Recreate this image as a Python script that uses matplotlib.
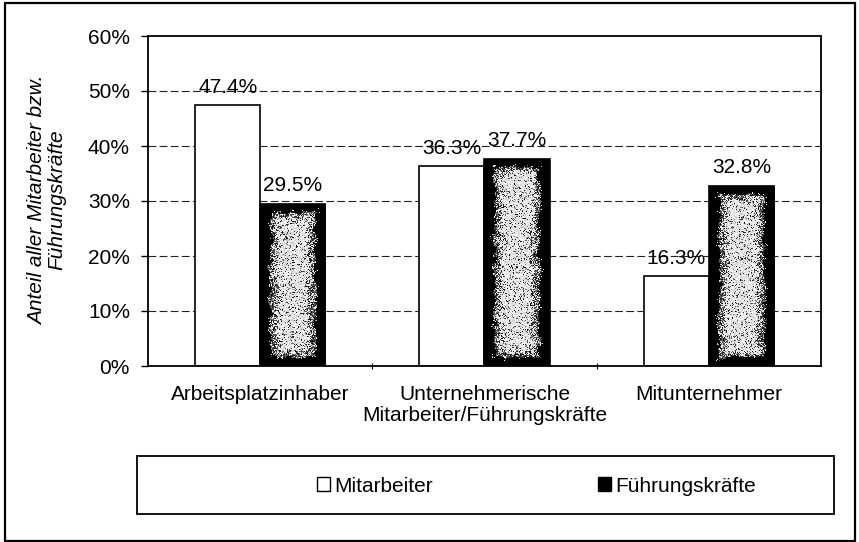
import numpy as np
import matplotlib
matplotlib.use('Agg')
import matplotlib.pyplot as plt
import matplotlib.patches as mpl_patches
from matplotlib.ticker import FixedLocator, PercentFormatter

plt.rcParams['font.family'] = ['Liberation Sans', 'DejaVu Sans']

categories = ['Arbeitsplatzinhaber',
              'Unternehmerische\nMitarbeiter/Führungskräfte',
              'Mitunternehmer']
series_names = ['Mitarbeiter', 'Führungskräfte']
mitarbeiter = [47.4, 36.3, 16.3]
fuehrung = [29.5, 37.7, 32.8]
y_ticks = [0, 10, 20, 30, 40, 50, 60]
y_label = 'Anteil aller Mitarbeiter bzw.\nFührungskräfte'

FONT_SIZE = 15
BAR_WIDTH = 0.29

GRID_STYLING = {
    'color': '#222222',
    'linestyle': (0, (7, 3)),
    'linewidth': 0.8,
    'zorder': 0,
}

LABEL_STYLING = {
    'ha': 'center',
    'va': 'bottom',
    'fontsize': FONT_SIZE,
    'textcoords': 'offset points',
    'xytext': (0, 6),
}


def smooth(a, k):
    kernel = np.ones(k) / k
    a = np.apply_along_axis(lambda r: np.convolve(r, kernel, mode='same'), 0, a)
    a = np.apply_along_axis(lambda r: np.convolve(r, kernel, mode='same'), 1, a)
    return a


def speckle_texture(w_px, h_px, rng):
    # dark rim fading into a grainy light core, like a dithered centre gradient
    xx, yy = np.meshgrid(np.arange(w_px) + 0.5, np.arange(h_px) + 0.5)
    dx = np.minimum(xx, w_px - xx)
    dy = np.minimum(yy, h_px - yy)
    d = np.minimum(dx, dy * 1.2)
    blob = smooth(rng.random((h_px, w_px)), 7)
    blob = (blob - blob.mean()) / blob.std()
    p = np.clip((d - 9.0) / 12.0 + blob * 0.18, 0, 1) * 0.85
    white = rng.random((h_px, w_px)) < p
    light = rng.uniform(0.8, 1.0, (h_px, w_px))
    dark = rng.uniform(0.0, 0.5, (h_px, w_px)) * (p > 0.15)
    return np.where(white, light, dark)


fig = plt.figure(figsize=(8.59, 5.42), dpi=100)
ax = fig.add_axes([148 / 859, 1 - 366 / 542, (821 - 148) / 859, (366 - 36) / 542])

x = np.arange(len(categories))
bars_m = ax.bar(x - BAR_WIDTH / 2, mitarbeiter, BAR_WIDTH, color='white',
                edgecolor='black', linewidth=1.2, zorder=2)
bars_f = ax.bar(x + BAR_WIDTH / 2, fuehrung, BAR_WIDTH, color='black',
                edgecolor='black', linewidth=1.2, zorder=2)

# texture inside the dark bars
px_per_x = (821 - 148) / 3.0
px_per_y = (366 - 36) / 60.0
rng = np.random.default_rng(11)
for bar in bars_f:
    bx, by = bar.get_x(), bar.get_y()
    bw, bh = bar.get_width(), bar.get_height()
    tex = speckle_texture(int(round(bw * px_per_x)), int(round(bh * px_per_y)), rng)
    im = ax.imshow(tex, cmap='gray', vmin=0, vmax=1, extent=(bx, bx + bw, by, by + bh),
                   aspect='auto', interpolation='nearest', zorder=2.5)
    im.set_clip_path(bar)

ax.set_xlim(-0.5, len(categories) - 0.5)
ax.set_ylim(0, 60)

for bar, v in zip(list(bars_m) + list(bars_f), mitarbeiter + fuehrung):
    ax.annotate(f'{v:.1f}%', (bar.get_x() + bar.get_width() / 2, v), **LABEL_STYLING)

ax.yaxis.set_major_locator(FixedLocator(y_ticks))
ax.yaxis.set_major_formatter(PercentFormatter(decimals=0))
for t in y_ticks[1:-1]:
    ax.axhline(t, **GRID_STYLING)

ax.set_xticks(x)
ax.set_xticklabels(categories, fontsize=FONT_SIZE, linespacing=1.1)
ax.set_xticks([0.5, 1.5], minor=True)
ax.tick_params(axis='x', which='major', length=0, pad=14)
ax.tick_params(axis='x', which='minor', length=5, direction='inout', width=0.8)
ax.tick_params(axis='y', length=5, width=1, pad=8, labelsize=FONT_SIZE)

for sp in ax.spines.values():
    sp.set_linewidth(1.3)
    sp.set_color('black')

fig.text(47 / 859, 1 - 200 / 542, y_label, rotation=90, ha='center', va='center',
         fontsize=FONT_SIZE, style='italic', multialignment='center', linespacing=1.05)

# legend box and entries
fig.add_artist(mpl_patches.Rectangle((137 / 859, 1 - 514 / 542), (834 - 137) / 859,
                                     (514 - 456) / 542, transform=fig.transFigure,
                                     fill=False, edgecolor='black', linewidth=1.3))
handles = [mpl_patches.Patch(facecolor='white', edgecolor='black', linewidth=1.0),
           mpl_patches.Patch(facecolor='black', edgecolor='black', linewidth=1.0)]
fig.legend(handles=handles, labels=series_names, loc='center left',
           bbox_to_anchor=(298 / 859, 1 - 486 / 542), ncol=2, frameon=False,
           fontsize=FONT_SIZE, handlelength=0.65, handleheight=0.65,
           handletextpad=0.2, columnspacing=7.9)

# outer frame
fig.add_artist(mpl_patches.Rectangle((5 / 859, 1 / 542), 850 / 859, 538 / 542,
                                     transform=fig.transFigure, fill=False,
                                     edgecolor='black', linewidth=1.6))

fig.savefig('out.png', dpi=100)
